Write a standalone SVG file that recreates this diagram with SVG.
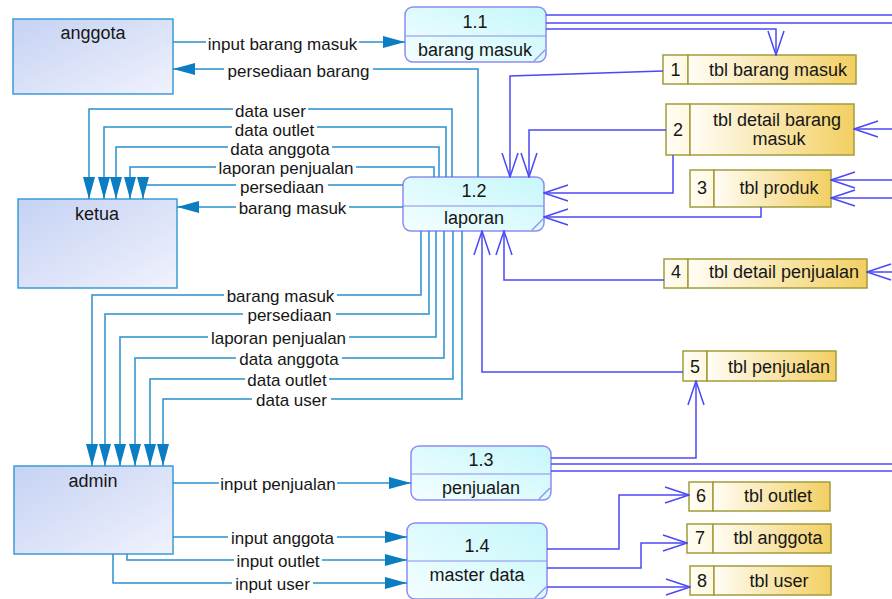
<svg xmlns="http://www.w3.org/2000/svg" width="892" height="599" viewBox="0 0 892 599">
<defs>
<linearGradient id="gEnt" x1="0" y1="0" x2="1" y2="1"><stop offset="0" stop-color="#c5d2f3"/><stop offset="1" stop-color="#f0f2fd"/></linearGradient>
<linearGradient id="gProc" x1="0" y1="1" x2="1" y2="0"><stop offset="0" stop-color="#f4feff"/><stop offset="1" stop-color="#c6f7fb"/></linearGradient>
<linearGradient id="gNum" x1="0" y1="0" x2="1" y2="0"><stop offset="0" stop-color="#fffdf4"/><stop offset="1" stop-color="#fff8e0"/></linearGradient>
<linearGradient id="gLbl" x1="0" y1="0" x2="1" y2="0"><stop offset="0" stop-color="#fffdf6"/><stop offset="1" stop-color="#f3cf62"/></linearGradient>
<marker id="tri" viewBox="0 0 22 12" refX="22" refY="6" markerWidth="22" markerHeight="12" markerUnits="userSpaceOnUse" orient="auto"><path d="M0,0 L22,6 L0,12 z" fill="#0b7dc3"/></marker>
<marker id="vee" viewBox="-1 -1 26 18" refX="24" refY="8" markerWidth="26" markerHeight="18" markerUnits="userSpaceOnUse" orient="auto"><path d="M0,0 L24,8 L0,16" fill="none" stroke="#4a4af5" stroke-width="1.5"/></marker>
<style>
.ent rect{fill:url(#gEnt);stroke:#3d9ad6;stroke-width:1.5}
.proc rect{fill:url(#gProc);stroke:#8c8cf0;stroke-width:1.5}
.proc line{stroke:#8c8cf0;stroke-width:1.2}
.st rect.n{fill:url(#gNum);stroke:#a39c3c;stroke-width:1.5}
.st rect.l{fill:url(#gLbl);stroke:#a39c3c;stroke-width:1.5}
text{font-family:"Liberation Sans",Arial,sans-serif;font-size:18px;fill:#161616}
.c{text-anchor:middle}
.lbl{text-anchor:middle;font-size:17px;paint-order:stroke;stroke:#fff;stroke-width:4px;stroke-linejoin:round}
.bg{fill:#fff}
.f{fill:none;stroke:#2a8fd0;stroke-width:1.5;marker-end:url(#tri)}
.s{fill:none;stroke:#4a4af5;stroke-width:1.5}
.sa{marker-end:url(#vee)}
</style>
</defs>
<rect width="892" height="599" fill="#fff"/>

<g id="anggota" class="ent"><rect x="13" y="19" width="160" height="75"/><text class="c" x="93" y="39">anggota</text></g>
<g id="ketua" class="ent"><rect x="18" y="199" width="159" height="89"/><text class="c" x="97" y="220">ketua</text></g>
<g id="admin" class="ent"><rect x="14" y="466" width="159" height="88"/><text class="c" x="93" y="487">admin</text></g>

<g id="p11" class="proc"><rect x="405" y="7" width="141" height="55" rx="8"/><line x1="405" y1="36" x2="546" y2="36"/><line x1="534" y1="61" x2="545" y2="50"/><text class="c" x="475" y="28">1.1</text><text class="c" x="475" y="56">barang masuk</text></g>
<g id="p12" class="proc"><rect x="403" y="177" width="141" height="54" rx="8"/><line x1="403" y1="206" x2="544" y2="206"/><line x1="532" y1="230" x2="543" y2="219"/><text class="c" x="474" y="197">1.2</text><text class="c" x="474" y="224">laporan</text></g>
<g id="p13" class="proc"><rect x="411" y="446" width="140" height="54" rx="8"/><line x1="411" y1="474" x2="551" y2="474"/><line x1="539" y1="499" x2="550" y2="488"/><text class="c" x="481" y="466">1.3</text><text class="c" x="481" y="494">penjualan</text></g>
<g id="p14" class="proc"><rect x="407" y="523" width="140" height="76" rx="8"/><line x1="407" y1="561" x2="547" y2="561"/><line x1="535" y1="598" x2="546" y2="587"/><text class="c" x="477" y="552">1.4</text><text class="c" x="477" y="581">master data</text></g>

<g id="s1" class="st"><rect class="n" x="663" y="55" width="25" height="29"/><rect class="l" x="688" y="55" width="168" height="29"/><text class="c" x="675.5" y="76">1</text><text class="c" x="778" y="76">tbl barang masuk</text></g>
<g id="s2" class="st"><rect class="n" x="666" y="104" width="24" height="51"/><rect class="l" x="690" y="104" width="164" height="51"/><text class="c" x="678" y="136">2</text><text class="c" x="777" y="126">tbl detail barang</text><text class="c" x="779" y="145">masuk</text></g>
<g id="s3" class="st"><rect class="n" x="690" y="170" width="24" height="37"/><rect class="l" x="714" y="170" width="117" height="37"/><text class="c" x="702" y="194">3</text><text class="c" x="779" y="194">tbl produk</text></g>
<g id="s4" class="st"><rect class="n" x="664" y="259" width="24" height="29"/><rect class="l" x="688" y="259" width="179" height="29"/><text class="c" x="676" y="278">4</text><text class="c" x="784" y="278">tbl detail penjualan</text></g>
<g id="s5" class="st"><rect class="n" x="683" y="351" width="24" height="30"/><rect class="l" x="707" y="351" width="129" height="30"/><text class="c" x="695" y="373">5</text><text class="c" x="779" y="373">tbl penjualan</text></g>
<g id="s6" class="st"><rect class="n" x="689" y="482" width="24" height="29"/><rect class="l" x="713" y="482" width="117" height="29"/><text class="c" x="701" y="502">6</text><text class="c" x="778" y="502">tbl outlet</text></g>
<g id="s7" class="st"><rect class="n" x="687" y="524" width="26" height="29"/><rect class="l" x="713" y="524" width="118" height="29"/><text class="c" x="700" y="544">7</text><text class="c" x="778" y="544">tbl anggota</text></g>
<g id="s8" class="st"><rect class="n" x="690" y="566" width="24" height="29"/><rect class="l" x="714" y="566" width="117" height="29"/><text class="c" x="702" y="587">8</text><text class="c" x="779" y="587">tbl user</text></g>

<g id="connectors">
<path class="f" d="M173,42 H405"/>
<path class="f" d="M478,177 V69 H173"/>
<path class="f" d="M452,177 V109 H89 V199"/>
<path class="f" d="M446,177 V127 H104 V199"/>
<path class="f" d="M439,177 V147 H116 V199"/>
<path class="f" d="M434,177 V167 H130 V199"/>
<path class="f" d="M403,185 H143 V199"/>
<path class="f" d="M403,207 H177"/>
<path class="f" d="M421,231 V295 H92 V466"/>
<path class="f" d="M429,231 V314 H105 V466"/>
<path class="f" d="M436,231 V337 H120 V466"/>
<path class="f" d="M444,231 V358 H135 V466"/>
<path class="f" d="M453,231 V379 H150 V466"/>
<path class="f" d="M462,231 V399 H163 V466"/>
<path class="f" d="M173,483 H411"/>
<path class="f" d="M173,537 H407"/>
<path class="f" d="M127,554 V560 H407"/>
<path class="f" d="M113,554 V583 H407"/>

<path class="s sa" d="M546,29 H776 V55"/>
<path class="s" d="M546,15 H892"/>
<path class="s" d="M546,23 H892"/>
<path class="s sa" d="M663,71 L510,76 V177"/>
<path class="s sa" d="M666,130 H529 V177"/>
<path class="s sa" d="M673,155 V193 H544"/>
<path class="s sa" d="M761,207 V217 H544"/>
<path class="s sa" d="M892,180 H831"/>
<path class="s sa" d="M892,198 H831"/>
<path class="s sa" d="M892,129 H854"/>
<path class="s sa" d="M892,272 H867"/>
<path class="s sa" d="M664,280 H504 V231"/>
<path class="s sa" d="M683,372 H482 V231"/>
<path class="s sa" d="M551,458 H696 V381"/>
<path class="s" d="M551,464 H892"/>
<path class="s" d="M551,471 H892"/>
<path class="s sa" d="M547,549 H619 V495 H689"/>
<path class="s sa" d="M547,568 H641 V543 H687"/>
<path class="s sa" d="M547,587 H690"/>

<rect class="bg" x="206" y="39" width="152" height="6"/>
<rect class="bg" x="224" y="66" width="149" height="6"/>
<rect class="bg" x="233" y="106" width="75" height="6"/>
<rect class="bg" x="232" y="124" width="85" height="6"/>
<rect class="bg" x="228" y="144" width="104" height="6"/>
<rect class="bg" x="216" y="164" width="140" height="6"/>
<rect class="bg" x="236" y="182" width="92" height="6"/>
<rect class="bg" x="236" y="204" width="113" height="6"/>
<rect class="bg" x="224" y="292" width="113" height="6"/>
<rect class="bg" x="243" y="311" width="93" height="6"/>
<rect class="bg" x="208" y="334" width="141" height="6"/>
<rect class="bg" x="236" y="355" width="106" height="6"/>
<rect class="bg" x="245" y="376" width="84" height="6"/>
<rect class="bg" x="252" y="396" width="79" height="6"/>
<rect class="bg" x="219" y="480" width="118" height="6"/>
<rect class="bg" x="228" y="534" width="109" height="6"/>
<rect class="bg" x="234" y="557" width="88" height="6"/>
<rect class="bg" x="232" y="580" width="81" height="6"/>

<text class="lbl" x="282.5" y="50">input barang masuk</text>
<text class="lbl" x="298.5" y="77">persediaan barang</text>
<text class="lbl" x="270.5" y="117">data user</text>
<text class="lbl" x="274.5" y="136">data outlet</text>
<text class="lbl" x="280" y="155">data anggota</text>
<text class="lbl" x="286" y="174">laporan penjualan</text>
<text class="lbl" x="282" y="193">persediaan</text>
<text class="lbl" x="292.5" y="214">barang masuk</text>
<text class="lbl" x="280.5" y="302">barang masuk</text>
<text class="lbl" x="289.5" y="321">persediaan</text>
<text class="lbl" x="278.5" y="344">laporan penjualan</text>
<text class="lbl" x="289" y="365">data anggota</text>
<text class="lbl" x="287" y="386">data outlet</text>
<text class="lbl" x="291.5" y="406">data user</text>
<text class="lbl" x="278" y="490">input penjualan</text>
<text class="lbl" x="282.5" y="544">input anggota</text>
<text class="lbl" x="278" y="567">input outlet</text>
<text class="lbl" x="272.5" y="590">input user</text>
</g>
</svg>
